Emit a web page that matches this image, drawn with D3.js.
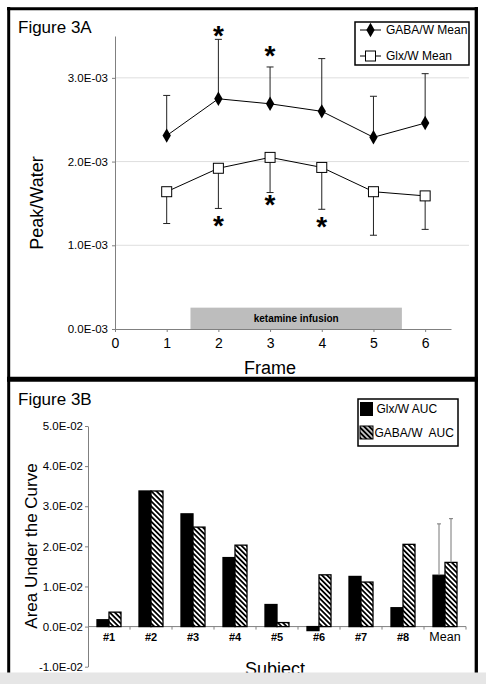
<!DOCTYPE html>
<html><head><meta charset="utf-8">
<script src="https://cdn.jsdelivr.net/npm/d3@7"></script>
<style>body{margin:0;background:#fff}svg{display:block;font-family:Arial,"Liberation Sans",sans-serif}</style>
</head><body>
<script>
// ---- Figure 3A data ----
const frames = [1, 2, 3, 4, 5, 6];
const gabaMean = [2.31e-3, 2.75e-3, 2.69e-3, 2.60e-3, 2.29e-3, 2.46e-3];
const gabaUpper = [2.79e-3, 3.46e-3, 3.13e-3, 3.23e-3, 2.78e-3, 3.05e-3];
const glxMean = [1.64e-3, 1.92e-3, 2.05e-3, 1.93e-3, 1.64e-3, 1.59e-3];
const glxLower = [1.26e-3, 1.44e-3, 1.63e-3, 1.43e-3, 1.12e-3, 1.19e-3];
const starFrames = [2, 3, 2, 3, 4];
const starLevels = [3.55e-3, 3.31e-3, 1.28e-3, 1.53e-3, 1.27e-3];
const yTicksA = [0, 1e-3, 2e-3, 3e-3];
const yTickLabelsA = ["0.0E-03", "1.0E-03", "2.0E-03", "3.0E-03"];
const xTicksA = [0, 1, 2, 3, 4, 5, 6];
const infusion = [1.46, 5.55];
const infusionHeight = 0.255e-3;
const legendA = ["GABA/W Mean", "Glx/W Mean"];

// ---- Figure 3B data ----
const subjects = ["#1", "#2", "#3", "#4", "#5", "#6", "#7", "#8", "Mean"];
const glxAUC = [0.0017, 0.0338, 0.0281, 0.0172, 0.0055, -0.0010, 0.0125, 0.0047, 0.0128];
const gabaAUC = [0.0036, 0.0338, 0.0248, 0.0203, 0.0010, 0.0129, 0.0111, 0.0205, 0.0160];
const meanErrUpper = [0.0256, 0.0269];
const yTicksB = [-0.01, 0, 0.01, 0.02, 0.03, 0.04, 0.05];
const yTickLabelsB = ["-1.0E-02", "0.0E-02", "1.0E-02", "2.0E-02", "3.0E-02", "4.0E-02", "5.0E-02"];
const legendB = ["Glx/W AUC", "GABA/W  AUC"];

const W = 486, H = 692;
const FONT = "Arial, 'Liberation Sans', sans-serif";
const svg = d3.select("body").append("svg").attr("width", W).attr("height", H);
const defs = svg.append("defs");
defs.append("pattern").attr("id", "hatch").attr("patternUnits", "userSpaceOnUse")
  .attr("width", 3.6).attr("height", 3.6).attr("patternTransform", "rotate(-45)")
  .call(p => {
    p.append("rect").attr("width", 3.6).attr("height", 3.6).attr("fill", "#fff");
    p.append("line").attr("x1", 0.9).attr("x2", 0.9).attr("y1", 0).attr("y2", 3.6)
      .attr("stroke", "#000").attr("stroke-width", 1.8);
  });
defs.append("pattern").attr("id", "hatchDark").attr("patternUnits", "userSpaceOnUse")
  .attr("width", 3.6).attr("height", 3.6).attr("patternTransform", "rotate(-45)")
  .call(p => {
    p.append("rect").attr("width", 3.6).attr("height", 3.6).attr("fill", "#000");
    p.append("line").attr("x1", 0.9).attr("x2", 0.9).attr("y1", 0).attr("y2", 3.6)
      .attr("stroke", "#fff").attr("stroke-width", 1.4);
  });

const axisColor = "#808080";

// ================= PANEL A =================
const xA = d3.scaleLinear().domain([0, 6.5]).range([115, 451]);
const yA = d3.scaleLinear().domain([0, 3.5e-3]).range([329, 36]);
const gA = svg.append("g");

// gridlines
gA.selectAll(".grid").data(yTicksA.filter(d => d > 0)).join("line")
  .attr("x1", xA(0)).attr("x2", 469).attr("y1", d => yA(d)).attr("y2", d => yA(d))
  .attr("stroke", "#dedede").attr("stroke-width", 1);

// infusion bar
gA.append("rect").attr("x", xA(infusion[0])).attr("width", xA(infusion[1]) - xA(infusion[0]))
  .attr("y", yA(infusionHeight)).attr("height", yA(0) - yA(infusionHeight)).attr("fill", "#bdbdbd");
gA.append("text").attr("x", (xA(infusion[0]) + xA(infusion[1])) / 2).attr("y", yA(infusionHeight / 2) + 3.5)
  .attr("text-anchor", "middle").attr("font-size", 10).attr("font-weight", "bold").text("ketamine infusion");

// axes
const yAxisA = d3.axisLeft(yA).tickValues(yTicksA).tickFormat((d, i) => yTickLabelsA[i]).tickSize(3).tickSizeOuter(0);
const axA = gA.append("g").attr("transform", `translate(${xA(0)},0)`).call(yAxisA);
axA.attr("font-family", FONT).attr("font-size", 11.5);
axA.select(".domain").attr("stroke", axisColor);
axA.selectAll(".tick line").attr("stroke", axisColor);
axA.selectAll(".tick text").attr("fill", "#000").attr("x", -7);

const xAxisA = d3.axisBottom(xA).tickValues(xTicksA).tickFormat(d => d).tickSize(3).tickSizeOuter(0);
const axXA = gA.append("g").attr("transform", `translate(0,${yA(0)})`).call(xAxisA);
axXA.attr("font-family", FONT).attr("font-size", 14);
axXA.select(".domain").attr("stroke", axisColor);
axXA.selectAll(".tick line").attr("stroke", axisColor);
axXA.selectAll(".tick text").attr("fill", "#000").attr("y", 9);

// error bars
function errBar(g, x, y0, y1, color) {
  g.append("line").attr("x1", x).attr("x2", x).attr("y1", y0).attr("y2", y1).attr("stroke", color).attr("stroke-width", 1);
  g.append("line").attr("x1", x - 3.5).attr("x2", x + 3.5).attr("y1", y1).attr("y2", y1).attr("stroke", color).attr("stroke-width", 1);
}
frames.forEach((f, i) => {
  errBar(gA, xA(f), yA(gabaMean[i]), yA(gabaUpper[i]), "#222");
  errBar(gA, xA(f), yA(glxMean[i]), yA(glxLower[i]), "#222");
});

// lines
const lineGen = d3.line().x(d => xA(d[0])).y(d => yA(d[1]));
gA.append("path").datum(frames.map((f, i) => [f, gabaMean[i]])).attr("d", lineGen)
  .attr("fill", "none").attr("stroke", "#000").attr("stroke-width", 1);
gA.append("path").datum(frames.map((f, i) => [f, glxMean[i]])).attr("d", lineGen)
  .attr("fill", "none").attr("stroke", "#000").attr("stroke-width", 1);

// markers
const diamond = d3.symbol().type(d3.symbolDiamond).size(60);
gA.selectAll(".dia").data(frames).join("path")
  .attr("d", diamond).attr("transform", (d, i) => `translate(${xA(d)},${yA(gabaMean[i])})`).attr("fill", "#000");
gA.selectAll(".sq").data(frames).join("rect")
  .attr("x", d => xA(d) - 5).attr("y", (d, i) => yA(glxMean[i]) - 5).attr("width", 10).attr("height", 10)
  .attr("fill", "#fff").attr("stroke", "#000").attr("stroke-width", 1);

// significance stars (centred on the given level)
gA.selectAll(".star").data(starFrames).join("text")
  .attr("x", d => xA(d)).attr("y", (d, i) => yA(starLevels[i]) + 13)
  .attr("text-anchor", "middle").attr("font-size", 28).attr("font-weight", "bold").text("*");

// labels
gA.append("text").attr("x", 18).attr("y", 33).attr("font-size", 17).text("Figure 3A");
gA.append("text").attr("x", 270).attr("y", 374).attr("text-anchor", "middle").attr("font-size", 18).text("Frame");
gA.append("text").attr("transform", "translate(43,203) rotate(-90)").attr("text-anchor", "middle").attr("font-size", 18).text("Peak/Water");

// legend A
const lgA = gA.append("g");
lgA.append("rect").attr("x", 355).attr("y", 22).attr("width", 114).attr("height", 43)
  .attr("fill", "#fff").attr("stroke", "#000").attr("stroke-width", 1.5);
[30, 56].forEach((ly, i) => {
  lgA.append("line").attr("x1", 360).attr("x2", 381).attr("y1", ly).attr("y2", ly).attr("stroke", "#000");
  if (i === 0) lgA.append("path").attr("d", diamond).attr("transform", `translate(370.5,${ly})`).attr("fill", "#000");
  else lgA.append("rect").attr("x", 365.5).attr("y", ly - 5).attr("width", 10).attr("height", 10).attr("fill", "#fff").attr("stroke", "#000");
  lgA.append("text").attr("x", 386).attr("y", ly + 4).attr("font-size", 12).text(legendA[i]);
});

// ================= PANEL B =================
const xB = d3.scaleBand().domain(subjects).range([88, 466]).paddingInner(18 / 42).paddingOuter(9 / 42);
const xB1 = d3.scaleBand().domain(["glx", "gaba"]).range([0, xB.bandwidth()]);
const yB = d3.scaleLinear().domain([-0.01, 0.05]).range([666.7, 426]);
const gB = svg.append("g");

const yAxisB = d3.axisLeft(yB).tickValues(yTicksB).tickFormat((d, i) => yTickLabelsB[i]).tickSize(3).tickSizeOuter(0);
const axB = gB.append("g").attr("transform", "translate(88,0)").call(yAxisB);
axB.attr("font-family", FONT).attr("font-size", 11.5);
axB.select(".domain").attr("stroke", axisColor);
axB.selectAll(".tick line").attr("stroke", axisColor);
axB.selectAll(".tick text").attr("fill", "#000").attr("x", -5);

// x axis line with ticks at band boundaries
gB.append("line").attr("x1", 88).attr("x2", 466).attr("y1", yB(0)).attr("y2", yB(0)).attr("stroke", axisColor);
gB.selectAll(".xtick").data(subjects).join("line")
  .attr("x1", d => xB(d) - 9 + xB.step()).attr("x2", d => xB(d) - 9 + xB.step())
  .attr("y1", yB(0)).attr("y2", yB(0) + 3).attr("stroke", axisColor);

// bars
const barData = subjects.flatMap((s, i) => [
  { s, k: "glx", v: glxAUC[i] },
  { s, k: "gaba", v: gabaAUC[i] }
]);
gB.selectAll(".bar").data(barData).join("rect")
  .attr("x", d => xB(d.s) + xB1(d.k)).attr("width", xB1.bandwidth())
  .attr("y", d => yB(Math.max(0, d.v))).attr("height", d => Math.abs(yB(d.v) - yB(0)))
  .attr("fill", d => d.k === "glx" ? "#000" : "url(#hatch)")
  .attr("stroke", "#000").attr("stroke-width", 1.3);

// mean error bars
["glx", "gaba"].forEach((k, j) => {
  const x = xB("Mean") + xB1(k) + xB1.bandwidth() / 2;
  const v = j === 0 ? glxAUC[8] : gabaAUC[8];
  gB.append("line").attr("x1", x).attr("x2", x).attr("y1", yB(v)).attr("y2", yB(meanErrUpper[j])).attr("stroke", "#777");
  gB.append("line").attr("x1", x - 2).attr("x2", x + 2).attr("y1", yB(meanErrUpper[j])).attr("y2", yB(meanErrUpper[j])).attr("stroke", "#777");
});

// category labels
gB.selectAll(".cat").data(subjects).join("text")
  .attr("x", d => xB(d) + xB.bandwidth() / 2).attr("y", 641)
  .attr("text-anchor", "middle")
  .attr("font-size", d => d === "Mean" ? 12.5 : 11)
  .attr("font-weight", d => d === "Mean" ? "normal" : "bold")
  .text(d => d);

gB.append("text").attr("x", 18).attr("y", 405).attr("font-size", 17).text("Figure 3B");
gB.append("text").attr("x", 275).attr("y", 675).attr("text-anchor", "middle").attr("font-size", 18).text("Subject");
gB.append("text").attr("transform", "translate(36.5,546) rotate(-90)").attr("text-anchor", "middle").attr("font-size", 17).text("Area Under the Curve");

// legend B
const lgB = gB.append("g");
lgB.append("rect").attr("x", 358).attr("y", 399).attr("width", 100).attr("height", 47)
  .attr("fill", "#fff").attr("stroke", "#000").attr("stroke-width", 1.5);
lgB.append("rect").attr("x", 360).attr("y", 402).attr("width", 13).attr("height", 14).attr("fill", "#000");
lgB.append("rect").attr("x", 360).attr("y", 426).attr("width", 13).attr("height", 13).attr("fill", "url(#hatchDark)").attr("stroke", "#000");
lgB.append("text").attr("x", 376.5).attr("y", 412.5).attr("font-size", 12).text(legendB[0]);
lgB.append("text").attr("x", 374.5).attr("y", 436.5).attr("font-size", 12).style("white-space", "pre").text(legendB[1]);

// ================= BORDERS =================
const border = svg.append("g").attr("stroke", "#000").attr("fill", "none");
border.append("line").attr("x1", 7).attr("x2", 478).attr("y1", 8.7).attr("y2", 8.7).attr("stroke-width", 3);
border.append("line").attr("x1", 8.7).attr("x2", 8.7).attr("y1", 7).attr("y2", 673).attr("stroke-width", 3);
border.append("line").attr("x1", 476.3).attr("x2", 476.3).attr("y1", 7).attr("y2", 673).attr("stroke-width", 3.3);
border.append("line").attr("x1", 7).attr("x2", 478).attr("y1", 379.2).attr("y2", 379.2).attr("stroke-width", 5);

// scan-noise strip at the bottom
svg.append("rect").attr("x", 0).attr("y", 672.5).attr("width", W).attr("height", 11.5).attr("fill", "#e6e6e6");
</script>
</body></html>
